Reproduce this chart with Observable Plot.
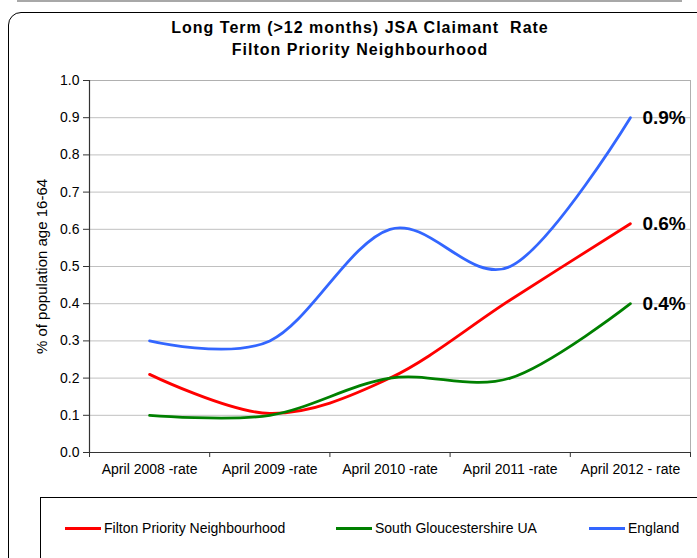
<!DOCTYPE html>
<html>
<head>
<meta charset="utf-8">
<script src="https://cdn.jsdelivr.net/npm/d3@7"></script>
<script src="https://cdn.jsdelivr.net/npm/@observablehq/plot@0.6"></script>
<style>
  html, body { margin: 0; padding: 0; background: #fff; }
  body { width: 697px; height: 558px; overflow: hidden; position: relative; font-family: "Liberation Sans", Arial, sans-serif; }
  #topline { position: absolute; left: 17px; top: 0px; width: 665px; height: 2px; background: #a8a8a8; }
  #frame { position: absolute; left: 8px; top: 12px; width: 720px; height: 580px; border: 1px solid #000; border-radius: 13px; box-sizing: border-box; }
  #title { position: absolute; left: 0; width: 720px; top: 17px; text-align: center; font-weight: bold; font-size: 16px; letter-spacing: 1px; line-height: 22px; color: #000; }
  #chart { position: absolute; left: 0; top: 60px; }
  #legend { position: absolute; left: 40px; top: 497px; width: 700px; height: 80px; border: 1px solid #000; box-sizing: border-box; }
  .item { position: absolute; top: 22px; font-size: 14px; color: #000; white-space: nowrap; display: flex; align-items: center; }
  .swatch { display: inline-block; width: 36px; height: 3px; margin-right: 3px; }
</style>
</head>
<body>
<div id="topline"></div>
<div id="frame"></div>
<div id="title">Long Term (&gt;12 months) JSA Claimant&nbsp; Rate<br>Filton Priority Neighbourhood</div>
<div id="chart"></div>
<div id="legend"></div>
<script>
const categories = ["April 2008 -rate", "April 2009 -rate", "April 2010 -rate", "April 2011 -rate", "April 2012 - rate"];
const seriesNames = ["Filton Priority Neighbourhood", "South Gloucestershire UA", "England"];
const seriesColors = ["#ff0000", "#008000", "#3366ff"];
const filton = [0.21, 0.105, 0.20, 0.41, 0.615];
const southGlos = [0.10, 0.10, 0.20, 0.20, 0.40];
const england = [0.30, 0.30, 0.60, 0.50, 0.90];
const yTicks = [0, 0.1, 0.2, 0.3, 0.4, 0.5, 0.6, 0.7, 0.8, 0.9, 1.0];

const allSeries = [filton, southGlos, england];
const data = [];
allSeries.forEach((vals, s) => vals.forEach((v, i) => data.push({series: seriesNames[s], i, v})));
const last = allSeries.map((vals, s) => ({series: seriesNames[s], i: vals.length - 1, v: vals[vals.length - 1]}));
const boundaries = d3.range(categories.length + 1).map(k => k - 0.5);

const chart = Plot.plot({
  width: 697,
  height: 430,
  marginLeft: 89,
  marginRight: 7,
  marginTop: 20,
  marginBottom: 38,
  style: {fontFamily: "'Liberation Sans', Arial, sans-serif", fontSize: "14px", color: "#000", background: "transparent", overflow: "visible"},
  x: {type: "linear", domain: [-0.5, categories.length - 0.5]},
  y: {domain: [0, 1]},
  color: {domain: seriesNames, range: seriesColors},
  marks: [
    Plot.gridY(yTicks, {stroke: "#c0c0c0", strokeOpacity: 1}),
    Plot.frame({stroke: "#b0b0b0"}),
    Plot.ruleX([-0.5], {stroke: "#333", strokeWidth: 1.2}),
    Plot.ruleY([0], {stroke: "#333", strokeWidth: 1.2}),
    Plot.axisY(yTicks, {tickSize: 6, tickPadding: 4, tickFormat: d3.format(".1f"), stroke: "#333", label: null, fontSize: 14}),
    Plot.axisY([], {tickSize: 0, label: "% of population age 16-64", labelAnchor: "center", labelArrow: "none", labelOffset: 53, fontSize: 15}),
    Plot.axisX(d3.range(categories.length), {tickSize: 0, tickPadding: 12, tickFormat: k => categories[k], label: null, fontSize: 14}),
    Plot.axisX(boundaries, {tickSize: 5, tickFormat: () => "", label: null, stroke: "#333"}),
    Plot.line(data, {x: "i", y: "v", z: "series", stroke: "series", strokeWidth: 2.8, curve: "cardinal"}),
    Plot.text(last, {x: "i", y: "v", text: d => d.v.toFixed(1) + "%", dx: 12, textAnchor: "start", fontWeight: "bold", fontSize: 19, fill: "#000"})
  ]
});
document.getElementById("chart").appendChild(chart);

const legendPos = [24, 295, 548];
const legend = document.getElementById("legend");
seriesNames.forEach((name, s) => {
  const el = document.createElement("div");
  el.className = "item";
  el.style.left = legendPos[s] + "px";
  el.innerHTML = `<span class="swatch" style="background:${seriesColors[s]}"></span><span>${name}</span>`;
  legend.appendChild(el);
});
</script>
</body>
</html>
